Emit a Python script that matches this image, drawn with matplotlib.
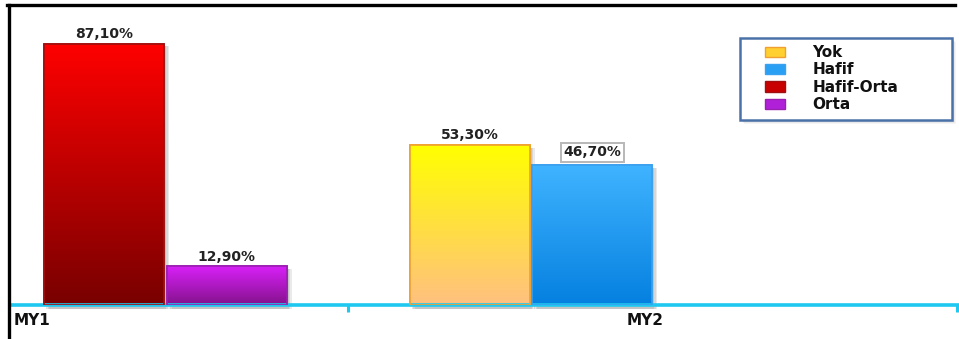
import numpy as np
import matplotlib.pyplot as plt
from matplotlib.colors import LinearSegmentedColormap
from matplotlib.patches import Rectangle
from matplotlib.lines import Line2D

# data
categories = ["MY1", "MY2"]
series_names = ["Yok", "Hafif", "Hafif-Orta", "Orta"]
yok = [0, 53.3]
hafif = [0, 46.7]
hafif_orta = [87.1, 0]
orta = [12.9, 0]

series_values = [yok, hafif, hafif_orta, orta]
# (top colour, bottom colour, edge colour) for each series
grad_colors = {
    "Yok": ("#ffff00", "#ffc080", "#f0a030"),
    "Hafif": ("#40b4ff", "#0580e0", "#3aa0f0"),
    "Hafif-Orta": ("#ff0000", "#780000", "#a01010"),
    "Orta": ("#d820f8", "#84128c", "#9a20b0"),
}
legend_colors = {"Yok": "#ffd030", "Hafif": "#2aa0f4",
                 "Hafif-Orta": "#c80000", "Orta": "#b020d8"}
boxed_labels = ["46,70%"]

W, H = 959, 339
fig = plt.figure(figsize=(W / 100, H / 100), dpi=100)
plt.rcParams['font.family'] = ['DejaVu Sans']

x_left_px, x_right_px = 10, 957.5
base_px, top_px = 305, 6
ax = fig.add_axes([x_left_px / W, 1 - base_px / H,
                   (x_right_px - x_left_px) / W, (base_px - top_px) / H])

px_per_unit = 365.5
xmin = (x_left_px - 165.5) / px_per_unit
xmax = (x_right_px - 165.5) / px_per_unit
ax.set_xlim(xmin, xmax)
ax.set_ylim(0, (base_px - top_px) / 3.0)

bar_w = 0.328
offsets = [-0.168, 0.168]
shadow_dx = 5 / px_per_unit

for ci, cat in enumerate(categories):
    present = [(name, vals[ci]) for name, vals in zip(series_names, series_values) if vals[ci] > 0]
    for slot, (name, v) in enumerate(present):
        xc = ci + offsets[slot]
        top_c, bot_c, edge_c = grad_colors[name]
        # soft shadow
        for k, a in enumerate([0.18, 0.16, 0.14]):
            ax.bar(xc + shadow_dx * (0.4 + 0.3 * k), v + 0.3, bottom=-1.2, width=bar_w,
                   color="#707070", alpha=a, linewidth=0, zorder=1, clip_on=False)
        bars = ax.bar(xc, v, width=bar_w, color=legend_colors[name], edgecolor=edge_c,
                      linewidth=1.2, zorder=2, label=name)
        patch = bars[0]
        cmap = LinearSegmentedColormap.from_list(name, [bot_c, top_c])
        grad = np.linspace(0, 1, 256).reshape(-1, 1)
        im = ax.imshow(grad, cmap=cmap, extent=(xc - bar_w / 2, xc + bar_w / 2, 0, v),
                       origin="lower", aspect="auto", zorder=2.5)
        im.set_clip_path(patch)
        ax.bar(xc, v, width=bar_w, fill=False, edgecolor=edge_c, linewidth=1.2, zorder=3)

        label = f"{v:.2f}%".replace(".", ",")
        if label in boxed_labels:
            ax.annotate(label, (xc, v), xytext=(0, 4), textcoords="offset points",
                        ha="center", va="bottom", fontsize=10, fontweight="bold",
                        color="#222222", zorder=5,
                        bbox=dict(boxstyle="square,pad=0.18", fc="white", ec="#b8b8b8", lw=1.4))
        else:
            ax.annotate(label, (xc, v), xytext=(0, 2), textcoords="offset points",
                        ha="center", va="bottom", fontsize=10, fontweight="bold",
                        color="#222222", zorder=5)

ax.set_xlim(xmin, xmax)

# axis styling
for s in ["top", "right", "left"]:
    ax.spines[s].set_visible(False)
ax.spines["bottom"].set_color("#1ec8f0")
ax.spines["bottom"].set_linewidth(2.6)
ax.set_yticks([])
ax.set_xticks([(32 - 165.5) / px_per_unit, (645 - 165.5) / px_per_unit])
ax.set_xticklabels(categories, fontsize=11, fontweight="bold", color="#111111")
ax.tick_params(axis="x", which="major", length=0, pad=6)
ax.set_xticks([0.5, xmax - 0.5 / px_per_unit], minor=True)
ax.tick_params(axis="x", which="minor", length=5, width=2.2, color="#1ec8f0")
ax.patch.set_alpha(0)

# legend frame drawn by hand so its size matches the reference
lx0, ly0, lx1, ly1 = 740, 38, 952, 120
for k, a in enumerate([0.10, 0.08, 0.06]):
    fig.add_artist(Rectangle(((lx0 + 2 + k) / W, 1 - (ly1 + 2 + k) / H),
                             (lx1 - lx0) / W, (ly1 - ly0) / H,
                             transform=fig.transFigure, fc="#606060", ec="none", alpha=a))
fig.add_artist(Rectangle((lx0 / W, 1 - ly1 / H), (lx1 - lx0) / W, (ly1 - ly0) / H,
                         transform=fig.transFigure, fc="white", ec="#4a72a8", lw=1.8))

handles = [Rectangle((0, 0), 1, 1, fc=legend_colors[n], ec=grad_colors[n][2], lw=1)
           for n in series_names]
leg = fig.legend(handles, series_names, loc="upper left",
                 bbox_to_anchor=(762 / W, 1 - 42 / H), bbox_transform=fig.transFigure,
                 frameon=False, borderaxespad=0,
                 prop={"size": 11, "weight": "bold"}, handlelength=1.3, handleheight=0.65,
                 handletextpad=1.8, labelspacing=0.16, borderpad=0.2)
leg.set_zorder(10)
for t in leg.get_texts():
    t.set_color("#111111")

# black frame along left and top of the picture
fig.add_artist(Line2D([8.5 / W, 8.5 / W], [0, 1 - 5 / H], color="black", lw=2.4))
fig.add_artist(Line2D([7.3 / W, 955 / W], [1 - 5 / H, 1 - 5 / H], color="black", lw=2.4))

fig.savefig("out.png", dpi=100)
